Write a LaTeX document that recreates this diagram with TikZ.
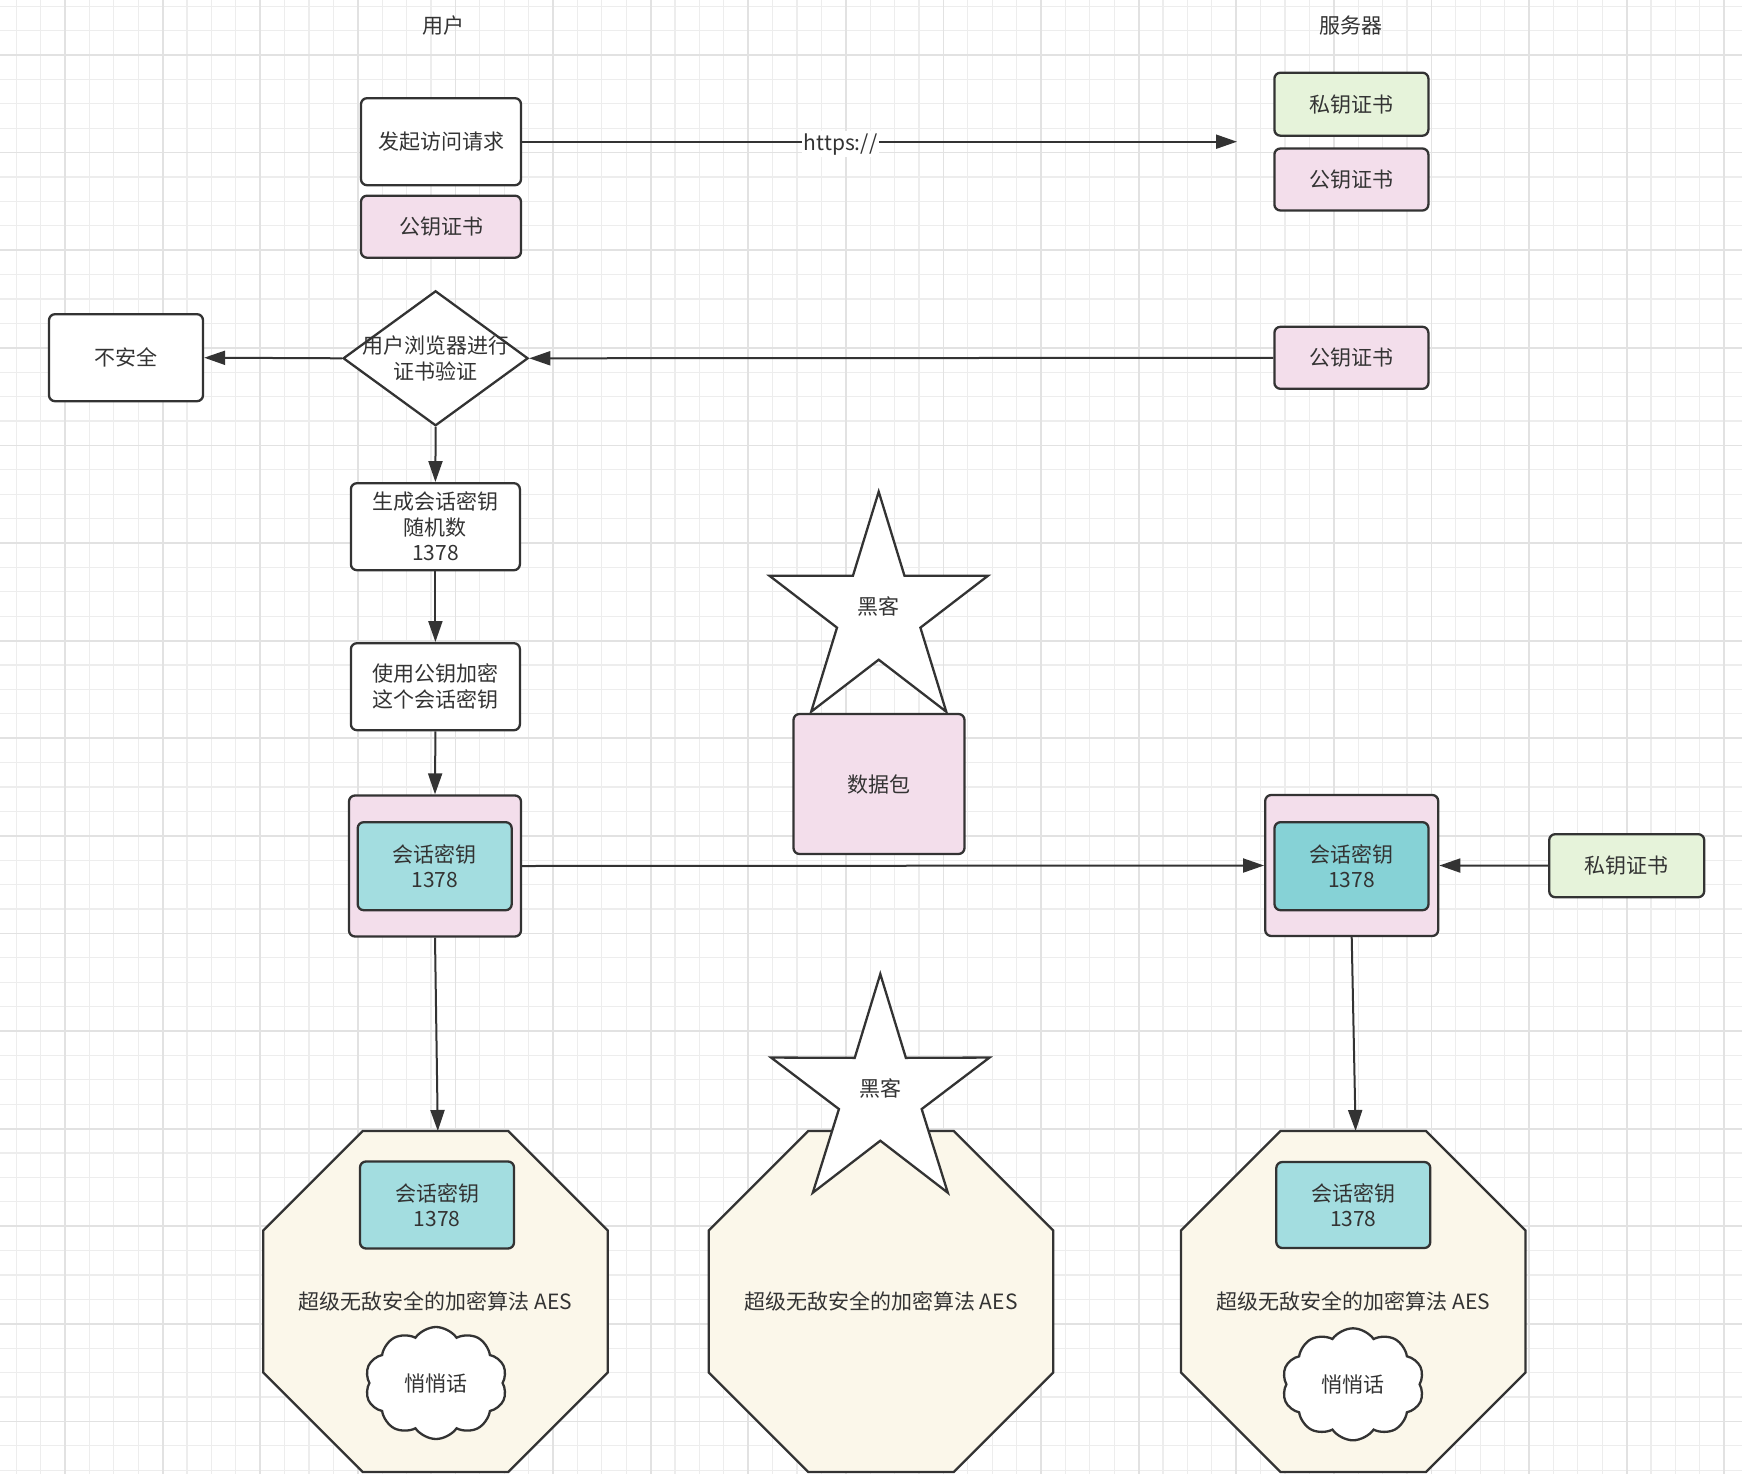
\documentclass[tikz,border=0pt]{standalone}
\usepackage{fontspec}
\setmainfont{Noto Sans CJK SC}
\usetikzlibrary{arrows.meta,shapes.geometric,shapes.symbols}
\definecolor{ink}{HTML}{333333}
\definecolor{pinkc}{HTML}{F3DEEB}
\definecolor{greenc}{HTML}{E6F3DA}
\definecolor{tealA}{HTML}{A3DDE0}
\definecolor{tealB}{HTML}{86D2D6}
\definecolor{creamc}{HTML}{FBF7EA}
\definecolor{gridminor}{HTML}{EDEDED}
\definecolor{gridmajor}{HTML}{E2E2E2}
\begin{document}
\begin{tikzpicture}[x=1pt,y=-1pt,
  every node/.style={font=\fontsize{21}{25.5}\selectfont, text=ink},
  box/.style={draw=ink, line width=2.3pt, rounded corners=6pt, fill=white, align=center, inner sep=0pt},
  arr/.style={draw=ink, line width=2pt, -{Triangle[length=21pt,width=14pt]}},
  shapeline/.style={draw=ink, line width=2.3pt, line join=miter},
  puff/.style={cloud, cloud puffs=10, cloud puff arc=110, aspect=1.29, draw=ink, fill=white, line width=2.3pt, inner sep=0pt, minimum width=142pt, minimum height=112pt}
]
% background and grid
\useasboundingbox (0,0) rectangle (1742,1474);
\fill[white] (0,0) rectangle (1742,1474);
\foreach \k in {-2,...,68} {
  \draw[gridminor, line width=1.3pt] ({65+24.4*\k},0) -- ({65+24.4*\k},1474);
}
\foreach \k in {-2,...,58} {
  \draw[gridminor, line width=1.3pt] (0,{55+24.4*\k}) -- (1742,{55+24.4*\k});
}
\foreach \m in {0,...,17} {
  \draw[gridmajor, line width=1.8pt] ({65+97.6*\m},0) -- ({65+97.6*\m},1474);
}
\foreach \m in {0,...,14} {
  \draw[gridmajor, line width=1.8pt] (0,{55+97.6*\m}) -- (1742,{55+97.6*\m});
}

% headings
\node (userT) at (443,26) {用户};
\node (serverT) at (1351,26) {服务器};

% top row
\node[box, minimum width=160pt, minimum height=87pt] (req) at (441,141.7) {发起访问请求};
\node[box, fill=pinkc, minimum width=160pt, minimum height=62pt] (pubU) at (441,226.7) {公钥证书};
\node[box, fill=greenc, minimum width=154pt, minimum height=63pt] (privS) at (1351.4,104.2) {私钥证书};
\node[box, fill=pinkc, minimum width=154pt, minimum height=62pt] (pubS1) at (1351.4,179.5) {公钥证书};
\coordinate (httpsEnd) at (1237,141.7);
\draw[arr] (req.east) -- node[pos=0.4455, fill=white, inner sep=2pt, yshift=-2.5pt] (https) {https://} (httpsEnd);

% verification row
\node[box, minimum width=154pt, minimum height=87pt] (unsafe) at (126,357.7) {不安全};
\node[diamond, draw=ink, line width=2.3pt, fill=white, minimum width=185pt, minimum height=135pt, inner sep=0pt] (check) at (435.6,358.3) {};
\node[align=center] (checkT) at (435.6,358.3) {用户浏览器进行\\证书验证};
\node[box, fill=pinkc, minimum width=154pt, minimum height=62pt] (pubS2) at (1351.4,357.8) {公钥证书};
\draw[arr] (pubS2.west) -- (check.east);
\draw[arr] (check.west) -- (unsafe.east);

% user steps
\node[box, minimum width=169pt, minimum height=87pt] (gen) at (435.4,526.7) {生成会话密钥\\随机数\\1378};
\node[box, minimum width=169pt, minimum height=87pt] (enc) at (435.4,686.7) {使用公钥加密\\这个会话密钥};
\draw[arr] (check.south) -- (gen.north);
\draw[arr] (gen.south) -- (enc.north);

% containers
\node[box, fill=pinkc, minimum width=172pt, minimum height=141pt] (contL) at (435,866) {};
\node[box, fill=tealA, minimum width=154pt, minimum height=88pt] (keyL) at (434.7,866.2) {会话密钥\\1378};
\node[box, fill=pinkc, minimum width=173pt, minimum height=141pt] (contR) at (1351.7,865.5) {};
\node[box, fill=tealB, minimum width=154pt, minimum height=88pt] (keyR) at (1351.5,866.2) {会话密钥\\1378};
\node[box, fill=greenc, minimum width=155pt, minimum height=63pt] (privR) at (1626.7,865.7) {私钥证书};
\draw[arr] (enc.south) -- (contL.north);
\draw[arr] (contL.east) -- (contR.west);
\draw[arr] (privR.west) -- (contR.east);

% data packet and hacker star
\node[box, fill=pinkc, minimum width=171pt, minimum height=140pt] (pkt) at (879,784) {数据包};
\begin{scope}[shift={(878.7,613.3)}, xscale=0.945]
  \draw[shapeline, fill=white] (-90:121.6) -- (-54:46.4) -- (-18:121.6) -- (18:46.4) -- (54:121.6) -- (90:46.4) -- (126:121.6) -- (162:46.4) -- (198:121.6) -- (234:46.4) -- cycle;
\end{scope}
\node (hacker1) at (878.7,606.7) {黑客};

% octagons
\foreach \cx/\nm in {435.5/L, 880.9/M, 1353.3/R} {
  \begin{scope}[shift={(\cx,0)}]
    \draw[shapeline, fill=creamc] (-72.75,1131) -- (72.75,1131) -- (172.25,1230.5) -- (172.25,1372.5) -- (72.75,1472) -- (-72.75,1472) -- (-172.25,1372.5) -- (-172.25,1230.5) -- cycle;
    \coordinate (octTop\nm) at (2.3,1131);
    \node (aes\nm) at (0,1301) {超级无敌安全的加密算法 AES};
  \end{scope}
}
\draw[arr] (contL.south) -- (octTopL);
\draw[arr] (contR.south) -- (octTopR);

\node[box, fill=tealA, minimum width=154pt, minimum height=87pt] (keyOL) at (437,1205) {会话密钥\\1378};
\node[box, fill=tealA, minimum width=154pt, minimum height=86pt] (keyOR) at (1353.3,1205) {会话密钥\\1378};
\node[puff] (cloudL) at (436,1383) {悄悄话};
\node[puff] (cloudR) at (1353,1384.3) {悄悄话};

% second hacker star
\begin{scope}[shift={(880.3,1094.9)}, xscale=0.95]
  \draw[shapeline, fill=white] (-90:120.9) -- (-54:45.8) -- (-18:120.9) -- (18:45.8) -- (54:120.9) -- (90:45.8) -- (126:120.9) -- (162:45.8) -- (198:120.9) -- (234:45.8) -- cycle;
\end{scope}
\node (hacker2) at (880.3,1088.3) {黑客};
\end{tikzpicture}
\end{document}
